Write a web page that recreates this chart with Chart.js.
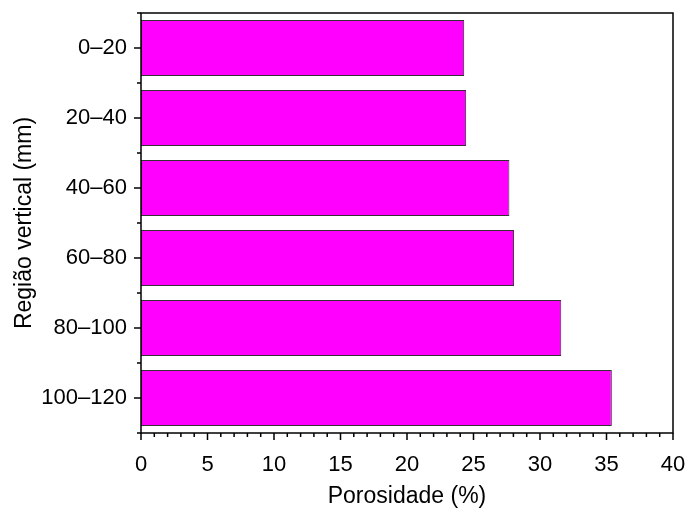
<!DOCTYPE html>
<html>
<head>
<meta charset="utf-8">
<script src="https://cdn.jsdelivr.net/npm/chart.js"></script>
<style>
  html, body { margin: 0; padding: 0; background: #fff; }
  #wrap { width: 686px; height: 512px; }
</style>
</head>
<body>
<div id="wrap"><canvas id="porosidade"></canvas></div>
<script>
const regioes = ['0–20', '20–40', '40–60', '60–80', '80–100', '100–120'];
const porosidade = [24.3, 24.45, 27.7, 28.05, 31.6, 35.4];
const xTicks = [0, 5, 10, 15, 20, 25, 30, 35, 40];

const FONT = '"Liberation Sans", Arial, sans-serif';

// moldura + ticks (maiores e menores) desenhados à mão
const frameTicks = {
  id: 'frameTicks',
  afterDraw(chart) {
    const { ctx, chartArea: a, scales: { x, y } } = chart;
    ctx.save();
    ctx.strokeStyle = '#000';
    ctx.lineWidth = 1.5;
    ctx.strokeRect(a.left, a.top, a.right - a.left, a.bottom - a.top);
    ctx.beginPath();
    for (let v = xTicks[0]; v <= xTicks[xTicks.length - 1]; v++) {
      const px = x.getPixelForValue(v);
      const len = v % 5 === 0 ? 7 : 4;
      ctx.moveTo(px, a.bottom);
      ctx.lineTo(px, a.bottom + len);
    }
    regioes.forEach((r, i) => {
      const py = y.getPixelForValue(i);
      ctx.moveTo(a.left, py);
      ctx.lineTo(a.left - 7, py);
    });
    const step = (a.bottom - a.top) / regioes.length;
    for (let i = 0; i <= regioes.length; i++) {
      const py = a.top + i * step;
      ctx.moveTo(a.left, py);
      ctx.lineTo(a.left - 4, py);
    }
    ctx.stroke();
    ctx.restore();
  }
};

new Chart(document.getElementById('porosidade'), {
  type: 'bar',
  data: {
    labels: regioes,
    datasets: [{
      data: porosidade,
      backgroundColor: '#ff00ff',
      borderColor: '#333',
      borderWidth: 1,
      borderSkipped: false,
      categoryPercentage: 1,
      barPercentage: 0.8
    }]
  },
  options: {
    indexAxis: 'y',
    responsive: true,
    maintainAspectRatio: false,
    animation: false,
    layout: { padding: { top: 13, right: 13, left: 0, bottom: 0 } },
    plugins: { legend: { display: false }, tooltip: { enabled: false } },
    scales: {
      x: {
        min: 0,
        max: 40,
        afterFit(s) { s.height = 79; s.paddingLeft = 0; s.paddingRight = 0; },
        afterBuildTicks(s) { s.ticks = xTicks.map(v => ({ value: v })); },
        grid: { display: false, drawTicks: false },
        border: { display: false },
        ticks: { color: '#000', padding: 19, font: { family: FONT, size: 22 } },
        title: {
          display: true,
          text: 'Porosidade (%)',
          color: '#000',
          padding: { top: 0, bottom: 2 },
          font: { family: FONT, size: 23 }
        }
      },
      y: {
        afterFit(s) { s.width = 141; s.paddingTop = 0; s.paddingBottom = 0; },
        grid: { display: false, drawTicks: false },
        border: { display: false },
        ticks: { color: '#000', padding: 14, font: { family: FONT, size: 22 } },
        title: {
          display: true,
          text: 'Região vertical (mm)',
          color: '#000',
          padding: { top: 11, bottom: 0 },
          font: { family: FONT, size: 23 }
        }
      }
    }
  },
  plugins: [frameTicks]
});
</script>
</body>
</html>
